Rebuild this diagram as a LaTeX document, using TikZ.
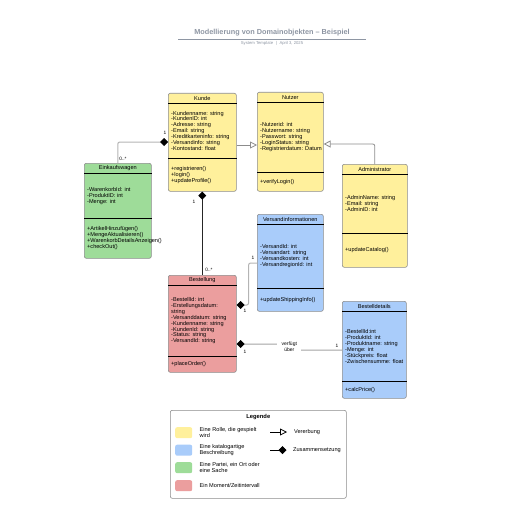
\documentclass[tikz,border=0pt]{standalone}
\usepackage{fontspec}
\setmainfont{Liberation Sans}
\usetikzlibrary{calc,arrows.meta,positioning}

\definecolor{rollegelb}{HTML}{FFF09C}
\definecolor{katalogblau}{HTML}{A9CCFA}
\definecolor{parteigruen}{HTML}{9EDC99}
\definecolor{momentrot}{HTML}{EB9E9E}
\definecolor{rahmengrau}{HTML}{8C8C8C}
\definecolor{liniengrau}{HTML}{B4B4B4}
\definecolor{titelgrau}{HTML}{8E96A3}

\newcommand{\klein}{\fontsize{5.6}{5.9}\selectfont}

% Titel, Trennlinien und Eintraege einer Klasse
\newcommand{\klasse}[5]{%
  \node[klassentitel] (#1-titel) at ($(#1.north)+(0,5.25)$) {#3};
  \draw[trenner] ($(#1.north west)+(0,10.5)$) -- ($(#1.north east)+(0,10.5)$);
  \draw[trenner] ($(#1.north west)+(0,#2)$) -- ($(#1.north east)+(0,#2)$);
  \node[eintrag] (#1-attr) at ($(#1.north west)+(2.5,{(10.5+#2)/2})$) {#4};
  \node[eintrag] (#1-meth) at ($($(#1.north west)+(2.5,#2)$)!0.5!($(#1.south west)+(2.5,0)$)$) {#5};
}

\begin{document}
\begin{tikzpicture}[
    x=1pt, y=-1pt,
    font=\klein,
    % Stile der Klassen
    klassenbox/.style={rectangle, rounded corners=2pt, draw=rahmengrau, line width=0.6pt, anchor=north west, inner sep=0pt},
    klassentitel/.style={inner sep=0pt, font=\klein},
    trenner/.style={draw=black, line width=0.7pt},
    eintrag/.style={anchor=west, align=left, inner sep=0.5pt, font=\klein},
    vielfach/.style={inner sep=0pt, font=\fontsize{4.8}{5}\selectfont},
    farbfeld/.style={rectangle, rounded corners=2pt, anchor=north west, minimum width=17pt, minimum height=11pt, inner sep=0pt},
    % Stile der Verbindungen
    komposition/.style={draw=liniengrau, line width=1pt, rounded corners=2pt, {Diamond[length=8pt, width=8pt, color=black]}-},
    vererbung/.style={draw=rahmengrau, line width=0.8pt, rounded corners=2pt, -{Triangle[open, length=7pt, width=7pt, fill=white]}}
  ]
  \useasboundingbox (0,0) rectangle (516,516);

  % Kopf
  \node[font=\bfseries\fontsize{7.3}{8}\selectfont, text=titelgrau] (titel) at (272,33) {Modellierung von Domainobjekten – Beispiel};
  \draw[titelgrau, line width=0.6pt] (178,39.5) -- (366,39.5);
  \node[font=\fontsize{4.2}{4.5}\selectfont, text=titelgrau] (untertitel) at (272,43.8) {System Template \enspace|\enspace April 3, 2025};

  % Klassen
  \node[klassenbox, fill=rollegelb, minimum width=68pt, minimum height=98pt] (kunde) at (168,93) {};
  \klasse{kunde}{65}{Kunde}
    {-Kundenname: string\\-KundenID: int\\-Adresse: string\\-Email: string\\-Kreditkarteninfo: string\\-Versandinfo: string\\-Kontostand: float}
    {+registrieren()\\+login()\\+updateProfile()}

  \node[klassenbox, fill=rollegelb, minimum width=66pt, minimum height=99pt] (nutzer) at (257,92) {};
  \klasse{nutzer}{80}{Nutzer}
    {-Nutzerid: int\\-Nutzername: string\\-Passwort: string\\-LoginStatus: string\\-Registrierdatum: Datum}
    {+verifyLogin()}

  \node[klassenbox, fill=parteigruen, minimum width=67pt, minimum height=95pt] (einkauf) at (84,163) {};
  \klasse{einkauf}{55}{Einkaufswagen}
    {-WarenkorbId: int\\-ProduktID: int\\-Menge: int}
    {+ArtikelHinzufügen()\\+MengeAktualisieren()\\+WarenkorbDetailsAnzeigen()\\+checkOut()}

  \node[klassenbox, fill=rollegelb, minimum width=65pt, minimum height=103pt] (admin) at (342,164) {};
  \klasse{admin}{69}{Administrator}
    {-AdminName: string\\-Email: string\\-AdminID: int}
    {+updateCatalog()}

  \node[klassenbox, fill=katalogblau, minimum width=66pt, minimum height=97pt] (versand) at (257,214) {};
  \klasse{versand}{74}{Versandinformationen}
    {-VersandId: int\\-Versandart: string\\-Versandkosten: int\\-VersandregionId: int}
    {+updateShippingInfo()}

  \node[klassenbox, fill=momentrot, minimum width=68pt, minimum height=97pt] (bestellung) at (168,275) {};
  \klasse{bestellung}{81}{Bestellung}
    {-BestellId: int\\-Erstellungsdatum:\\string\\-Versanddatum: string\\-Kundenname: string\\-KundenId: string\\-Status: string\\-VersandId: string}
    {+placeOrder()}

  \node[klassenbox, fill=katalogblau, minimum width=64pt, minimum height=97pt] (details) at (342,301) {};
  \klasse{details}{80}{Bestelldetails}
    {-BestellId:int\\-ProduktId: int\\-Produktname: string\\-Menge: int\\-Stückpreis: float\\-Zwischensumme: float}
    {+calcPrice()}

  % Verbindungen
  \coordinate (k1) at ($(kunde.north west)+(0,49)$);
  \draw[komposition] (k1) -| (einkauf.north);
  \node[vielfach] (m1) at (165,133) {1};
  \node[vielfach] (m2) at (123,159) {0..*};

  \coordinate (k2) at ($(kunde.north east)+(0,52)$);
  \draw[vererbung] (k2) -- (k2 -| nutzer.west);

  \coordinate (n1) at ($(nutzer.north east)+(0,52)$);
  \draw[vererbung] (admin.north) |- (n1);

  \draw[komposition, draw=black!85] (kunde.south) -- (bestellung.north);
  \node[vielfach] (m3) at (194,202) {1};
  \node[vielfach] (m4) at (209,270) {0..*};

  \coordinate (b1) at ($(bestellung.north east)+(0,30)$);
  \coordinate (v1) at ($(versand.north west)+(0,49)$);
  \draw[komposition] (b1) -- ++(12,0) |- (v1);
  \node[vielfach] (m5) at (253,258) {1};
  \node[vielfach] (m6) at (245,311) {1};

  \coordinate (b2) at ($(bestellung.north east)+(0,69)$);
  \coordinate (d1) at ($(details.north west)+(0,49)$);
  \coordinate (mitte) at ($(b2)!0.5!(d1)$);
  \draw[komposition, draw=rahmengrau!80] (b2) -| (mitte) |- (d1);
  \node[fill=white, align=center, inner sep=1pt, minimum width=24pt, font=\fontsize{5}{6}\selectfont] (verfuegt) at (mitte) {verfügt\\über};
  \node[vielfach] (m7) at (245,352) {1};
  \node[vielfach] (m8) at (337,346) {1};

  % Legende
  \node[klassenbox, fill=white, minimum width=176pt, minimum height=88pt] (legende) at (170,410) {};
  \node[font=\bfseries\fontsize{5.8}{6}\selectfont] (legende-titel) at ($(legende.north)+(0,7)$) {Legende};

  \node[farbfeld, fill=rollegelb] (feld-rolle) at (175,427) {};
  \node[eintrag, right=6.5pt of feld-rolle] (text-rolle) {Eine Rolle, die gespielt\\wird};
  \node[farbfeld, fill=katalogblau] (feld-katalog) at (175,444.5) {};
  \node[eintrag, right=6.5pt of feld-katalog] (text-katalog) {Eine katalogartige\\Beschreibung};
  \node[farbfeld, fill=parteigruen] (feld-partei) at (175,462) {};
  \node[eintrag, right=6.5pt of feld-partei] (text-partei) {Eine Partei, ein Ort oder\\eine Sache};
  \node[farbfeld, fill=momentrot] (feld-moment) at (175,480) {};
  \node[eintrag, right=6.5pt of feld-moment] (text-moment) {Ein Moment/Zeitintervall};

  \coordinate (vererbung-a) at (270,432);
  \coordinate (vererbung-b) at (287,432);
  \draw[vererbung, draw=black] (vererbung-a) -- (vererbung-b);
  \node[eintrag] (text-vererbung) at (293.5,432) {Vererbung};

  \coordinate (komposition-a) at (270,450);
  \coordinate (komposition-b) at (286.5,450);
  \draw[line width=0.8pt, -{Diamond[length=8pt, width=8pt]}] (komposition-a) -- (komposition-b);
  \node[eintrag] (text-komposition) at (292.5,450) {Zusammensetzung};

\end{tikzpicture}
\end{document}
